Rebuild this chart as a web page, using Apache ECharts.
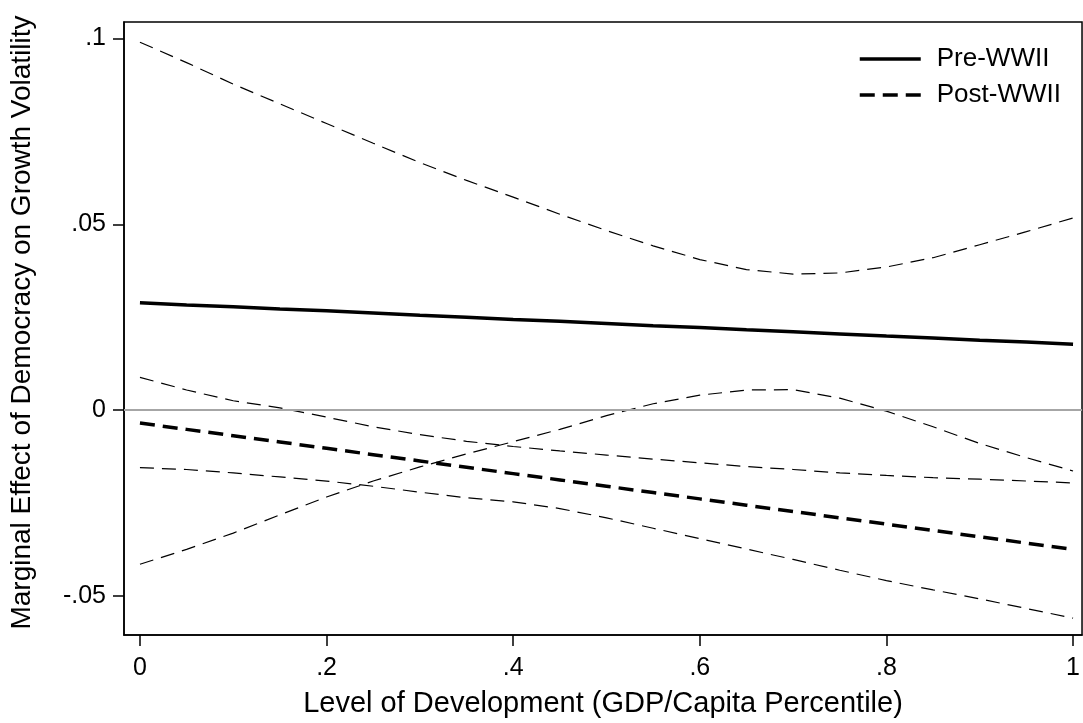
<!DOCTYPE html>
<html>
<head>
<meta charset="utf-8">
<script src="https://cdn.jsdelivr.net/npm/echarts@6/dist/echarts.min.js"></script>
<style>
  html, body { margin: 0; padding: 0; background: #fff; }
  #chart { width: 1083px; height: 723px; }
</style>
</head>
<body>
<div id="chart"></div>
<script>
// level of development (percentile), sampled every .05
const xVals = [0, 0.05, 0.1, 0.15, 0.2, 0.25, 0.3, 0.35, 0.4, 0.45, 0.5,
  0.55, 0.6, 0.65, 0.7, 0.75, 0.8, 0.85, 0.9, 0.95, 1];

const preEst = [0.0289, 0.0283, 0.0278, 0.0272, 0.0267, 0.0261, 0.0255, 0.025, 0.0244, 0.0239, 0.0233,
  0.0227, 0.0222, 0.0216, 0.0211, 0.0205, 0.0199, 0.0194, 0.0188, 0.0183, 0.0177];
const preHi = [0.099, 0.0935, 0.0877, 0.0824, 0.0771, 0.0718, 0.0666, 0.0618, 0.0573, 0.0527, 0.0483,
  0.0442, 0.0405, 0.0378, 0.0366, 0.0369, 0.0385, 0.041, 0.0445, 0.048, 0.0517];
const preLo = [-0.0415, -0.0375, -0.0331, -0.0282, -0.0234, -0.0191, -0.0153, -0.0118, -0.0085, -0.0052, -0.0015,
  0.0017, 0.004, 0.0054, 0.0055, 0.0032, -0.0003, -0.0045, -0.009, -0.0128, -0.0164];

const postEst = [-0.0035, -0.0052, -0.0069, -0.0086, -0.0103, -0.012, -0.0137, -0.0154, -0.0171, -0.0188, -0.0205,
  -0.0222, -0.0239, -0.0256, -0.0273, -0.029, -0.0307, -0.0324, -0.0341, -0.0358, -0.0375];
const postHi = [0.0088, 0.0054, 0.0025, 0.0006, -0.0019, -0.0045, -0.0066, -0.0084, -0.0098, -0.011, -0.0121,
  -0.0132, -0.0142, -0.0152, -0.016, -0.0169, -0.0176, -0.0182, -0.0186, -0.0191, -0.0196];
const postLo = [-0.0155, -0.016, -0.0169, -0.018, -0.0191, -0.0205, -0.0221, -0.0236, -0.0247, -0.0265, -0.029,
  -0.0318, -0.0346, -0.0374, -0.0402, -0.0431, -0.0459, -0.0484, -0.0508, -0.0534, -0.056];

const xTicks = [0, 0.2, 0.4, 0.6, 0.8, 1];
const yTicks = [-0.05, 0, 0.05, 0.1];

const FONT = '"Liberation Sans", Arial, sans-serif';

function pairs(ys) {
  return xVals.map((x, i) => [x, ys[i]]);
}

// stata style labels: .2 instead of 0.2
function stataNum(v) {
  if (v === 0 || v === 1) return String(v);
  return String(v).replace('0.', '.');
}

function ciLine(name, ys) {
  return {
    name: name,
    type: 'line',
    data: pairs(ys),
    symbol: 'none',
    silent: true,
    lineStyle: { color: '#000', width: 1.2, type: [14, 8] }
  };
}

const chart = echarts.init(document.getElementById('chart'));

chart.setOption({
  animation: false,
  backgroundColor: '#fff',
  textStyle: { fontFamily: FONT },
  grid: {
    left: 124,
    top: 22,
    right: -2,
    bottom: 87,
    show: true,
    borderColor: '#000',
    borderWidth: 1.5
  },
  legend: {
    data: ['Pre-WWII', 'Post-WWII'],
    orient: 'vertical',
    left: 853,
    top: 41,
    itemWidth: 61,
    itemHeight: 26,
    itemGap: 10,
    itemStyle: { opacity: 0 },
    lineStyle: { width: 3.5 },
    textStyle: { fontFamily: FONT, fontSize: 26, color: '#000', padding: [0, 0, 0, 11] }
  },
  xAxis: {
    type: 'value',
    min: -0.01709,
    max: 1.00962,
    name: 'Level of Development (GDP/Capita Percentile)',
    nameLocation: 'middle',
    nameGap: 54,
    nameTextStyle: { fontFamily: FONT, fontSize: 29, color: '#000' },
    axisLine: { show: true, onZero: false, lineStyle: { color: '#000', width: 1.5 } },
    axisTick: { show: true, length: 11, customValues: xTicks, lineStyle: { color: '#000', width: 1.5 } },
    axisLabel: {
      customValues: xTicks,
      formatter: stataNum,
      fontFamily: FONT,
      fontSize: 25,
      color: '#000',
      margin: 21
    },
    splitLine: { show: false }
  },
  yAxis: {
    type: 'value',
    min: -0.06053,
    max: 0.10443,
    name: 'Marginal Effect of Democracy on Growth Volatility',
    nameLocation: 'middle',
    nameRotate: 90,
    nameGap: 88,
    nameTextStyle: { fontFamily: FONT, fontSize: 28, color: '#000', padding: [0, 0, 0, 12] },
    axisLine: { show: true, onZero: false, lineStyle: { color: '#000', width: 1.5 } },
    axisTick: { show: true, length: 11, customValues: yTicks, lineStyle: { color: '#000', width: 1.5 } },
    axisLabel: {
      customValues: yTicks,
      formatter: stataNum,
      fontFamily: FONT,
      fontSize: 25,
      color: '#000',
      margin: 18
    },
    splitLine: { show: false }
  },
  series: [
    {
      name: 'zero',
      type: 'line',
      data: [],
      silent: true,
      markLine: {
        silent: true,
        symbol: 'none',
        label: { show: false },
        lineStyle: { color: '#a6a6a6', width: 2, type: 'solid' },
        data: [{ yAxis: 0 }]
      }
    },
    ciLine('preHi', preHi),
    ciLine('preLo', preLo),
    ciLine('postHi', postHi),
    ciLine('postLo', postLo),
    {
      name: 'Pre-WWII',
      type: 'line',
      data: pairs(preEst),
      symbol: 'none',
      lineStyle: { color: '#000', width: 3.5, type: 'solid' },
      itemStyle: { color: '#000' }
    },
    {
      name: 'Post-WWII',
      type: 'line',
      data: pairs(postEst),
      symbol: 'none',
      lineStyle: { color: '#000', width: 3.5, type: [15, 8] },
      itemStyle: { color: '#000' }
    }
  ]
});
</script>
</body>
</html>
